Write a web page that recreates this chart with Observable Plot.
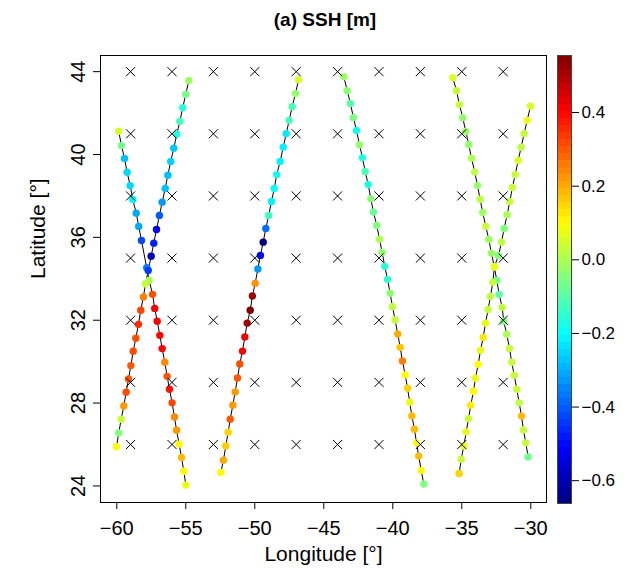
<!DOCTYPE html>
<html>
<head>
<meta charset="utf-8">
<script src="https://cdn.jsdelivr.net/npm/d3@7"></script>
<script src="https://cdn.jsdelivr.net/npm/@observablehq/plot@0.6"></script>
<style>
  html, body { margin: 0; padding: 0; background: white; }
  #wrap { position: relative; width: 632px; height: 574px; overflow: hidden; font-family: "Liberation Sans", Arial, Helvetica, sans-serif; }
  #wrap svg { position: absolute; left: 0; top: 0; }
  #title { position: absolute; z-index: 5; left: 0; width: 650px; top: 10px; text-align: center; font-weight: bold; font-size: 19px; line-height: 19px; color: black; }
</style>
</head>
<body>
<div id="wrap"><div id="title"></div></div>
<script>
// ---------------- data ----------------
const titleText = "(a) SSH [m]";
const xLabel = "Longitude [°]";
const yLabel = "Latitude [°]";
const xTicks = [-60, -55, -50, -45, -40, -35, -30];
const yTicks = [24, 28, 32, 36, 40, 44];
const cbTicks = [-0.6, -0.4, -0.2, 0.0, 0.2, 0.4];
const sshRange = [-0.662, 0.555];

// grid of crosses
const gridLon = [-59, -56, -53, -50, -47, -44, -41, -38, -35, -32];
const gridLat = [26, 29, 32, 35, 38, 41, 44];

// track A, descending
const aDscLon = [-59.86, -59.66, -59.44, -59.25, -59.03, -58.84, -58.59, -58.41, -58.21, -57.83, -57.65, -57.41, -57.25, -57.07, -56.88, -56.71, -56.52, -56.35, -56.18, -55.99, -55.82, -55.67, -55.48, -55.31, -55.14, -55.00];
const aDscLat = [41.12, 40.43, 39.81, 39.14, 38.50, 37.83, 37.17, 36.53, 35.85, 34.53, 33.92, 33.25, 32.57, 31.95, 31.27, 30.63, 29.97, 29.29, 28.67, 28.01, 27.33, 26.69, 26.02, 25.37, 24.71, 24.04];
const aDscSsh = [0.05, -0.07, -0.28, -0.25, -0.25, -0.21, -0.31, -0.31, -0.42, -0.36, 0.0, 0.31, 0.40, 0.40, 0.40, 0.40, 0.24, 0.30, 0.38, 0.32, 0.24, 0.22, 0.10, 0.18, 0.10, 0.08];

// track A, ascending
const aAscLon = [-60.02, -59.86, -59.68, -59.49, -59.32, -59.15, -58.98, -58.81, -58.62, -58.43, -58.26, -58.07, -57.92, -57.72, -57.51, -57.32, -57.12, -56.91, -56.71, -56.49, -56.30, -56.09, -55.87, -55.65, -55.43, -55.22, -55.00, -54.78];
const aAscLat = [25.89, 26.56, 27.22, 27.86, 28.52, 29.16, 29.81, 30.50, 31.13, 31.80, 32.48, 33.12, 33.76, 34.40, 35.09, 35.72, 36.38, 37.06, 37.70, 38.36, 39.00, 39.66, 40.30, 40.98, 41.60, 42.26, 42.91, 43.57];
const aAscSsh = [0.10, -0.05, 0.03, 0.22, 0.31, 0.30, 0.30, 0.31, 0.31, 0.35, 0.32, 0.25, 0.03, -0.44, -0.60, -0.47, -0.52, -0.40, -0.33, -0.28, -0.28, -0.26, -0.27, -0.17, -0.13, -0.16, -0.06, -0.02];

// track B, ascending
const bLon = [-52.46, -52.27, -52.10, -51.93, -51.78, -51.59, -51.42, -51.25, -51.09, -50.89, -50.72, -50.55, -50.33, -50.17, -49.97, -49.78, -49.59, -49.39, -49.20, -48.99, -48.79, -48.59, -48.41, -48.16, -47.94, -47.72, -47.51, -47.29, -47.05, -46.83];
const bLat = [24.65, 25.24, 25.93, 26.59, 27.22, 27.90, 28.54, 29.21, 29.89, 30.51, 31.19, 31.86, 32.48, 33.17, 33.78, 34.47, 35.13, 35.77, 36.43, 37.06, 37.73, 38.36, 39.03, 39.66, 40.35, 41.01, 41.65, 42.31, 42.94, 43.61];
const bSsh = [0.10, 0.20, 0.16, 0.15, 0.30, 0.22, 0.22, 0.30, 0.31, 0.40, 0.42, 0.52, 0.555, 0.52, 0.23, -0.33, -0.50, -0.662, -0.38, -0.13, -0.22, -0.20, -0.19, -0.22, -0.22, -0.23, -0.12, -0.12, -0.03, 0.05];

// track C, descending
const cLon = [-43.55, -43.30, -43.07, -42.85, -42.63, -42.41, -42.20, -42.00, -41.78, -41.59, -41.40, -41.16, -40.96, -40.77, -40.58, -40.38, -40.19, -40.02, -39.83, -39.64, -39.46, -39.30, -39.10, -38.93, -38.77, -38.62, -38.43, -38.28, -38.12, -37.94, -37.75];
const cLat = [43.76, 43.08, 42.46, 41.78, 41.16, 40.47, 39.85, 39.18, 38.55, 37.86, 37.22, 36.57, 35.91, 35.27, 34.60, 33.97, 33.30, 32.65, 32.01, 31.33, 30.69, 30.03, 29.36, 28.72, 28.04, 27.38, 26.74, 26.08, 25.44, 24.75, 24.09];
const cSsh = [-0.02, -0.04, -0.10, -0.06, -0.18, -0.03, -0.17, -0.12, -0.17, -0.04, -0.08, -0.05, 0.0, -0.03, -0.15, -0.15, -0.04, 0.02, 0.03, 0.20, 0.17, 0.25, 0.10, 0.15, 0.08, 0.18, 0.18, 0.10, 0.18, 0.10, -0.05];

// track D, descending
const dDscLon = [-35.65, -35.38, -35.17, -34.93, -34.71, -34.49, -34.30, -34.06, -33.86, -33.67, -33.48, -33.26, -33.04, -32.85, -32.64, -32.46, -32.29, -32.07, -31.96, -31.74, -31.54, -31.38, -31.20, -31.01, -30.84, -30.67, -30.53, -30.36, -30.19];
const dDscLat = [43.71, 43.08, 42.41, 41.78, 41.11, 40.47, 39.82, 39.16, 38.50, 37.84, 37.20, 36.53, 35.90, 35.24, 34.57, 33.92, 33.25, 32.62, 31.95, 31.32, 30.64, 29.97, 29.34, 28.67, 28.01, 27.37, 26.70, 26.08, 25.40];
const dDscSsh = [0.05, 0.03, 0.03, -0.03, -0.02, -0.03, 0.0, 0.02, -0.03, 0.02, -0.02, 0.03, -0.02, -0.02, -0.05, -0.07, -0.10, 0.02, -0.05, 0.0, 0.03, 0.03, 0.03, 0.03, 0.02, 0.18, 0.03, 0.03, -0.07];

// track D, ascending
const dAscLon = [-35.19, -35.04, -34.85, -34.68, -34.51, -34.35, -34.15, -34.01, -33.81, -33.64, -33.45, -33.28, -33.09, -32.92, -32.75, -32.63, -32.34, -32.12, -31.93, -31.71, -31.52, -31.33, -31.13, -30.91, -30.70, -30.48, -30.26, -30.02];
const dAscLat = [24.60, 25.29, 25.93, 26.61, 27.25, 27.90, 28.57, 29.20, 29.87, 30.55, 31.17, 31.86, 32.52, 33.15, 33.84, 34.58, 35.13, 35.77, 36.43, 37.09, 37.73, 38.41, 39.03, 39.71, 40.35, 41.01, 41.65, 42.33];
const dAscSsh = [0.15, 0.03, 0.08, 0.07, 0.03, 0.12, 0.10, 0.08, 0.10, 0.07, 0.13, 0.07, 0.03, 0.02, 0.03, 0.08, -0.05, 0.02, -0.05, 0.0, 0.03, 0.03, 0.03, 0.05, 0.02, 0.03, 0.08, 0.05];

// ---------------- build tables ----------------
function track(name, lon, lat, ssh) {
  return lon.map((x, i) => ({track: name, lon: x, lat: lat[i], ssh: ssh[i]}));
}
const points = [
  ...track("A-dsc", aDscLon, aDscLat, aDscSsh),
  ...track("A-asc", aAscLon, aAscLat, aAscSsh),
  ...track("B", bLon, bLat, bSsh),
  ...track("C", cLon, cLat, cSsh),
  ...track("D-dsc", dDscLon, dDscLat, dDscSsh),
  ...track("D-asc", dAscLon, dAscLat, dAscSsh)
];
const grid = d3.cross(gridLon, gridLat).map(([lon, lat]) => ({lon, lat}));

function jet(t) {
  const f = v => Math.max(0, Math.min(1, v));
  const r = f(1.5 - Math.abs(4 * t - 3));
  const g = f(1.5 - Math.abs(4 * t - 2));
  const b = f(1.5 - Math.abs(4 * t - 1));
  return d3.rgb(r * 255, g * 255, b * 255).formatHex();
}

const font = '"Liberation Sans", Arial, Helvetica, sans-serif';

const main = Plot.plot({
  width: 632, height: 574,
  marginLeft: 100, marginRight: 86, marginTop: 55, marginBottom: 72,
  x: {domain: [-61.18, -28.86]},
  y: {domain: [23.2, 44.78]},
  color: {type: "linear", domain: sshRange, interpolate: jet},
  style: {fontFamily: font, fontSize: "20px", color: "black", background: "white"},
  marks: [
    Plot.axisX({ticks: xTicks, tickSize: 7, tickPadding: 11, label: null, fontSize: 20}),
    Plot.axisY({ticks: yTicks, tickSize: 7, tickPadding: 9, tickRotate: -90, label: null, fontSize: 20}),
    Plot.text([xLabel], {text: d => d, frameAnchor: "bottom", dy: 58, fontSize: 21}),
    Plot.text([yLabel], {text: d => d, frameAnchor: "left", dx: -62, rotate: -90, fontSize: 21}),
    Plot.line(points, {x: "lon", y: "lat", z: "track", stroke: "black", strokeWidth: 1}),
    Plot.dot(points, {x: "lon", y: "lat", fill: "ssh", r: 3.7}),
    Plot.dot(grid, {x: "lon", y: "lat", symbol: "times", r: 4.2, stroke: "black", strokeWidth: 1}),
    Plot.frame({stroke: "black", strokeWidth: 1})
  ]
});

const nBins = 64;
const step = (sshRange[1] - sshRange[0]) / nBins;
const bins = d3.range(nBins).map(i => ({
  y1: sshRange[0] + i * step,
  y2: sshRange[0] + (i + 1) * step,
  mid: sshRange[0] + (i + 0.5) * step
}));

const bar = Plot.plot({
  width: 632, height: 574,
  marginLeft: 557, marginRight: 61, marginTop: 55, marginBottom: 71,
  x: {domain: [0, 1], axis: null},
  y: {domain: sshRange},
  color: {type: "linear", domain: sshRange, interpolate: jet},
  style: {fontFamily: font, fontSize: "17px", color: "black", background: "transparent"},
  marks: [
    Plot.rect(bins, {x1: 0, x2: 1, y1: "y1", y2: "y2", fill: "mid", shapeRendering: "crispEdges"}),
    Plot.frame({stroke: "#444", strokeWidth: 1}),
    Plot.axisY({anchor: "right", ticks: cbTicks, tickSize: 7, tickPadding: 3, tickFormat: d3.format(".1f"), label: null, fontSize: 17})
  ]
});

const wrap = document.getElementById("wrap");
wrap.appendChild(main);
wrap.appendChild(bar);
document.getElementById("title").textContent = titleText;
</script>
</body>
</html>
